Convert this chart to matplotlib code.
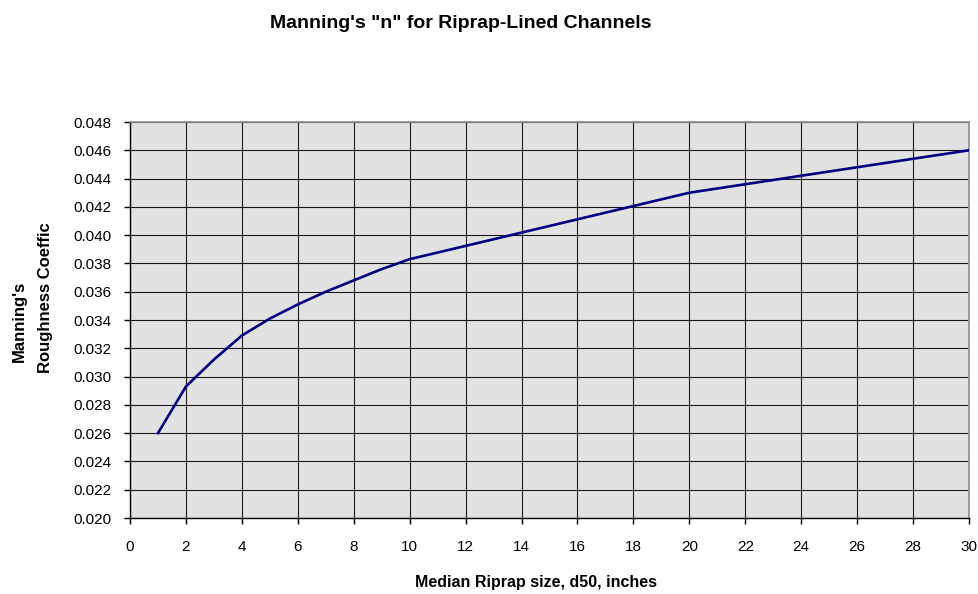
import matplotlib
matplotlib.use("Agg")
import matplotlib.pyplot as plt
import numpy as np

# Data
d50_inches = [1, 2, 3, 4, 5, 6, 7, 8, 9, 10, 20, 30]
manning_n = [0.0260, 0.0293, 0.0312, 0.0329, 0.0341, 0.0351, 0.0360, 0.0368,
             0.0376, 0.0383, 0.0430, 0.0460]
x_ticks = list(range(0, 31, 2))
y_ticks = [0.020, 0.022, 0.024, 0.026, 0.028, 0.030, 0.032, 0.034,
           0.036, 0.038, 0.040, 0.042, 0.044, 0.046, 0.048]

title = "Manning's \"n\" for Riprap-Lined Channels"
xlabel = "Median Riprap size, d50, inches"
ylabel_line1 = "Manning's"
ylabel_line2 = "Roughness Coeffic"

plt.rcParams['font.family'] = ['Liberation Sans', 'DejaVu Sans']

fig = plt.figure(figsize=(9.79, 5.94), dpi=100)
ax = fig.add_axes([130/979, 76/594, 839/979, 396/594])
ax.set_facecolor('#E2E2E2')

ax.plot(d50_inches, manning_n, color='#000080', lw=1.9, solid_joinstyle='round', zorder=3)

ax.set_xlim(0, 30)
ax.set_ylim(0.020, 0.048)
ax.set_xticks(x_ticks)
ax.set_yticks(y_ticks)
ax.set_xticklabels([str(v) for v in x_ticks])
ax.set_yticklabels([f"{v:.3f}" for v in y_ticks])
ax.grid(True, color='#1a1a1a', lw=0.8, zorder=1)
ax.set_axisbelow(True)

for s in ['top', 'right']:
    ax.spines[s].set_color('#909090')
    ax.spines[s].set_linewidth(1.2)
for s in ['left', 'bottom']:
    ax.spines[s].set_color('black')
    ax.spines[s].set_linewidth(1.0)

ax.tick_params(axis='y', direction='out', length=4, width=1, pad=9, labelsize=11)
ax.tick_params(axis='x', direction='out', length=4, width=1, pad=12, labelsize=11)

fig.text(461/979, 1 - 23/594, title, ha='center', va='center',
         fontsize=14, fontweight='bold')
fig.text(536/979, 1 - 583/594, xlabel, ha='center', va='center',
         fontsize=11.5, fontweight='bold')
fig.text(19/979, 1 - 321/594, ylabel_line1, ha='center', va='center', rotation=90,
         fontsize=12, fontweight='bold')
fig.text(46/979, 1 - 298/594, ylabel_line2, ha='center', va='center', rotation=90,
         fontsize=12, fontweight='bold')

fig.savefig('out.png', dpi=100)
